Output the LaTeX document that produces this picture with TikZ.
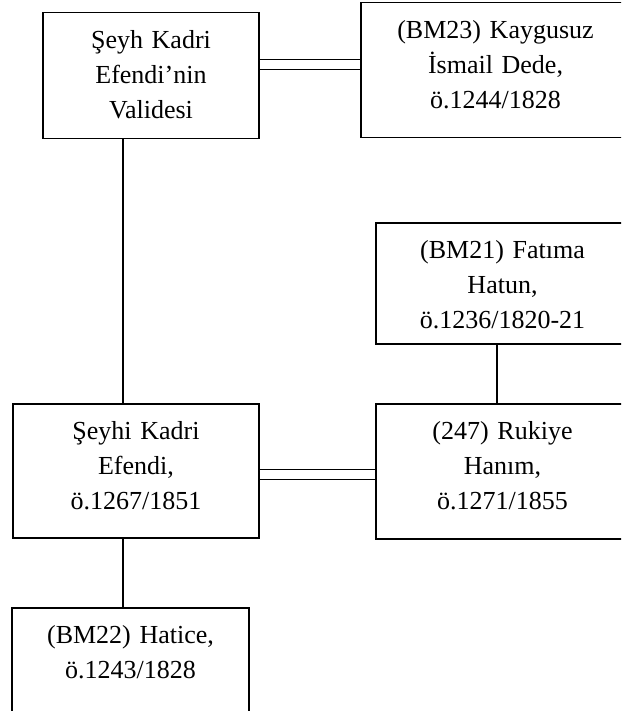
\documentclass[tikz,border=0pt]{standalone}
\usepackage{fontspec}
\setmainfont{Liberation Serif}
\usetikzlibrary{positioning}

\begin{document}
\begin{tikzpicture}[x=1pt, y=-1pt,
    person/.style={draw, rectangle, line width=1.5pt, anchor=north, align=center,
      inner xsep=0pt, inner ysep=10pt, text height=26pt,
      font=\fontsize{26}{35}\selectfont},
    link/.style={line width=1.5pt},
    marriage/.style={line width=1.2pt, double, double distance=9pt}]
  \useasboundingbox (0,0) rectangle (621,711);
  \clip (0,0) rectangle (621,711);

  \node[person, text width=216pt, text depth=80pt] (Valide) at (151,12) {Şeyh Kadri\\Efendi’nin\\Validesi};
  \node[person, text width=269pt, text depth=89pt] (Ismail) at (495.5,2) {(BM23) Kaygusuz\\İsmail Dede,\\ö.1244/1828};
  \node[person, text width=253pt, text depth=75pt] (Fatima) at (502.5,222) {(BM21) Fatıma\\Hatun,\\ö.1236/1820-21};
  \node[person, text width=246pt, text depth=88pt] (Kadri) at (136,403) {Şeyhi Kadri\\Efendi,\\ö.1267/1851};
  \node[person, text width=253pt, text depth=89pt] (Rukiye) at (502.5,403) {(247) Rukiye\\Hanım,\\ö.1271/1855};
  \node[person, text width=237pt, text depth=72pt] (Hatice) at (130.5,607) {(BM22) Hatice,\\ö.1243/1828};

  \draw[marriage] ([yshift=11.5pt]Valide.east) -- ([yshift=11.5pt]Valide.east -| Ismail.west);
  \draw[marriage] ([yshift=-4pt]Kadri.east) -- ([yshift=-4pt]Kadri.east -| Rukiye.west);

  \draw[link] ([xshift=-28pt]Valide.south) -- ([xshift=-28pt]Valide.south |- Kadri.north);
  \draw[link] ([xshift=-13pt]Kadri.south) -- ([xshift=-13pt]Kadri.south |- Hatice.north);
  \draw[link] ([xshift=-5.5pt]Fatima.south) -- ([xshift=-5.5pt]Fatima.south |- Rukiye.north);
\end{tikzpicture}
\end{document}
